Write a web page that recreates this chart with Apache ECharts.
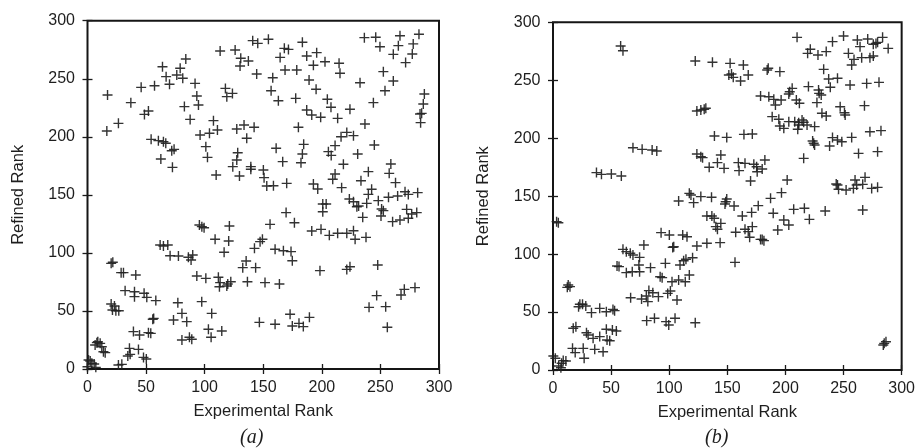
<!DOCTYPE html>
<html><head><meta charset="utf-8">
<script src="https://cdn.jsdelivr.net/npm/echarts@6/dist/echarts.min.js"></script>
<style>html,body{margin:0;padding:0;background:#fff}#c{width:918px;height:448px}</style>
</head><body><div id="c"></div>
<script>
// Panel (a): Experimental Rank vs Refined Rank
const aX = [236.3,246,249.6,266.7,265.3,282.9,278,277.2,271.5,261,252.5,261,253.9,244,236.8,244.8,232.6,224,287.5,286.6,285.2,284.3,283.8,
113.2,126,130.8,130.2,137.3,141,145.3,154.4,144.4,164.4,168,171.5,168.6,178.6,183.4,187.1,195.6,192.8,202.7,214.7,215.5,158.1,189.1,195.1,204.7,207.8,213.5,199,191.4,187.1,177.7,162.9,156.7,180,184.5,183.4,182.2,
205.6,208,211.3,216.4,221.3,227,218.4,211.3,209.3,216.9,230.6,233.4,239.7,242.5,239.7,238.3,248.2,251,250.5,223.5,227,229.9,231.4,234.9,237.7,227,228.4,221.3,213.5,206.4,199.3,191.4,198.4,221.3,224,247.7,246.8,240.3,254.5,255.9,267.6,270.4,279.5,
258.9,257.5,262.9,256.9,264.7,271,273.8,281.8,272.4,276.7,281,273.8,266.7,260.4,252.5,
192.8,196.5,200.8,203.7,200.8,169.5,176.6,155.8,149.3,147.3,142.5,160.1,167.2,173.7,174.8,135.4,132.5,143.5,136.5,151.5,163.8,146.7,160.1,172.9,174.8,180.5,184.2,189.4,
17.1,16.5,26.4,37,45.8,48.6,52,57.2,64,67.1,70,76.2,79.1,81.3,83.9,82.7,87.6,91.8,93.3,94.7,96.1,101,102.4,104.1,107.5,110.9,109.8,117.7,118.9,123.7,124,128.2,127.4,129.7,127.4,133.6,135.9,142.2,139.4,139.4,150.1,150.7,153,158.7,161,166.6,170,
54.3,60.5,64.8,66.8,71.9,73.9,62.6,72.5,
62,64.8,68.5,70.5,77.6,86.1,89.8,88.4,95.5,99.5,97.6,108.9,121.1,120.5,116.6,93.3,101,111.7,113.2,112.6,118.9,122.3,119.7,
20.2,21.6,28.7,30.7,41.2,32.1,40.1,40.1,48.3,50.6,58.3,20.2,21.3,24.2,26.7,23,56.5,55.7,77.1,73.4,80.6,84.7,80.6,87,89,97.5,106,103.2,105.5,114.6,
39.2,44.4,52,54,43.5,47.8,50.2,35.8,36.4,34.4,26.4,29.3,8.8,10.8,6.5,8,12.2,13.6,15.1,0.9,2.3,3.7,5.7,7.1,0];
const aY = [285.4,285.7,277.6,287,278.5,288.3,280,271.3,263.9,271,256.1,248,239.7,229.4,211,193,246.6,223.7,236.9,228.3,220.2,212.2,219.6,
273.9,274.8,267.6,261,265.3,282.8,280.5,284,254.1,268.4,276.2,275.3,257.5,257.5,281.4,269.6,272.5,261.6,264.7,263.3,254.7,250.9,248.9,240.9,232.3,225.4,215.9,216.8,218.8,223.1,233.1,231.1,239.7,208.2,193.5,185.2,177.7,
187.2,184,192.4,200.1,203.8,201,176.3,168,163.4,156.2,185.2,162.2,170,154.8,150.4,142.7,145,137.8,131.8,146.4,144.1,139.8,140.4,130.6,113.4,119.1,111.7,116.9,116.9,115.1,120.3,118.9,84.7,85.8,88.1,89.6,63.2,53.1,53.7,35.9,63.7,68.6,70.1,
176.6,168.5,160.5,147.9,149,152.7,150.4,151.9,137.5,133.5,134.7,129.8,128.3,126.9,136.4,
159.3,155,142.1,142.1,135.5,134.7,126,124.6,111.7,109.7,103.9,103.1,101.9,101.1,93.3,93,87.3,87.3,75.2,74.4,73.2,40.2,38.5,47.1,37,39.3,36.5,44.5,
236,205,211.6,229.4,242.6,219.3,222.2,244,260.4,251.8,245.2,253.2,259,250.4,267,226,215,246,235.1,227.4,201.5,191.5,182.3,203,213.9,205.9,167.1,241.7,234.6,237.4,174.3,186.3,180,166.2,206.7,210.2,198.7,208.2,174.3,172,171.4,164.8,157.6,157.9,190.1,178.6,159.9,
197.8,196.7,195.8,194.4,188,189.2,180.9,173.7,
106.8,105.9,106.8,97.6,97.3,96.2,98.2,93.9,124,121.7,122.6,111.7,123.2,110.2,100.5,80.1,78.1,79,74.4,70.9,71.5,75.2,73.2,
91,91.9,83,83,81,67.5,66.6,62.3,65.2,61.7,58.9,56,50.8,50.2,50.2,54.3,43.6,42.8,57.1,42.2,47.9,40.8,25,27.3,25.6,58,47.9,34.2,27.3,32.7,
32.2,29.3,31.3,30.7,16.9,10,8.6,17.8,12.6,11.2,3.4,4,23.5,22.1,20.7,22.7,19.2,14.9,14.1,7.8,6.9,4.9,4.3,1.4,2];

// Panel (b)
const bX = [210,250,240.5,261.9,270.8,283.6,277.9,279.3,275.6,288.4,264.2,254.2,259,265.6,272.7,275.6,257,255.6,269.9,280.5,268,247.1,250.8,251.4,257,240.5,244.8,248.5,238,272.7,282.2,262.9,279.3,215.7,223.4,224.3,225.1,
219.1,221.4,228,235.1,232.9,237.2,244.8,238.6,228.5,230.8,229,219.8,227.1,231.4,235.1,225.1,
209.4,212,202.9,205.8,203.7,196.3,190,185.7,178.6,191.4,195.2,185.2,184.3,188.6,194.3,195.2,198.6,202.9,208,211.4,214.3,215.7,218.6,210.6,211.4,
152.4,163.8,168,151.3,153.6,155.1,161.4,122.4,137.2,58.2,60.2,123.8,127.2,130.1,131.5,138.9,149.5,164.3,171.5,123.8,127.2,128.7,134.4,141.5,144.4,147.2,
159.5,160.1,165.2,170,172.8,175.2,175.7,180,182.3,68.8,76.7,85.3,89.3,37.4,41.7,50.2,58.8,3.1,4.6,
117.3,118.7,121,127.2,136.4,108.1,148.6,148,149.5,155.8,162.9,170.9,176.6,187.2,189.5,196.6,193.4,198.6,202.9,201.5,207.1,216.3,220.6,234.2,
132.4,136.7,138.7,140.1,141.5,144.4,143.8,132.4,123.8,157.2,165.2,168,171.5,169.2,178.6,181.5,180,156.6,
93,100.1,111.6,115.3,78.2,120.1,112.4,114.4,103,103.9,96.7,109.3,117.3,113.8,108.1,102.4,92.2,93.9,83.9,73.9,74.5,68.2,
60.2,63.1,66.5,68.8,74.5,55.1,56.8,63.1,13.1,14.6,12.3,
66.8,76.2,80.3,82.5,85.9,90.7,81.6,98.7,101,106.7,105,97.3,99.6,87.3,80.6,122.4,
23.1,25.4,28.2,22,33.1,40.2,45.9,51.6,53,19.7,17.4,28.8,30.2,34.5,40.2,45.9,48.8,51.1,54.5,46.5,
16.8,19.1,26,26.8,35.9,43.1,0.3,2,4.9,7.4,8.8,11.1,6.8,285,284.2,286.5,
243.7,245.7,244.8,252.2,258.5,261.3,259.9,266.5,268.5,274.2,279.3,266.5];
const bY = [287,288.2,283.3,284.7,285.6,287,281.8,282.7,281,277.5,279,273.2,268,269.5,269.5,270.9,263.2,245.9,247.3,248.2,228.1,227.2,222,220,200.7,200.5,198.4,197,193.3,205.6,206.5,186.9,188.4,182.6,197.6,195.6,194.1,
273.2,276.7,271.8,274.7,259.4,251.1,251.7,243.9,241.6,237.3,238.7,244.5,230.7,221.5,219.2,210,
233,230.1,238.1,243,240.1,233,233.5,235.8,236.4,228.6,257.4,260.3,258.8,218.6,216.3,210.5,208.5,214.3,214.3,213.4,215.7,213.7,211.4,207.7,211.4,
264.6,263.2,254.5,254.5,255.4,252.5,249.4,266.6,265.5,279.5,275.5,223.5,224.3,224.9,225.8,201.9,200.7,203.3,203.6,186.4,184.1,183.2,174.9,178.9,185.5,174,
178.9,172,178.3,163.1,177.5,175.4,171.1,173.4,181.2,191.8,190.4,189.8,189,170.3,168.8,169.1,167.4,128,127.1,
152.4,151,144.4,149.6,149,145.8,145.2,143.2,147.5,141.5,132.9,136,141.8,148.1,135.2,153,120.8,129.4,125.1,163.9,138.6,139.5,130,137.2,
132.9,132.9,130.9,123.7,121.4,126.5,109.9,109.3,107,118.8,121.4,119.4,123.7,114.5,112.7,111.6,112.7,92.9,
118.5,116.5,116.5,115,107.9,96.9,94.3,95.5,105.8,106.4,92,90.6,82,76.2,77.7,76.2,80.5,79.7,88.3,90.6,84.8,84.8,
104.1,102.1,100.7,99.2,97.2,89.7,89.2,84,73.3,71.9,71.3,
62.4,61.3,63.8,68.5,66.7,63.3,59,66.1,68.2,60.4,44.6,41.7,38.8,44.6,42.6,40.8,
56.7,56.7,55.2,54.6,49.5,53.2,50.3,52.3,51.2,37.4,36,32.2,30.2,27.3,28.8,35.1,25.3,34.5,33.6,25.9,
18.7,15,18.7,10.1,17.8,15.8,12.1,10.1,3.5,5.8,8.1,7.8,2,23,21.6,24.4,
160.5,155.9,159.6,155.3,156.7,159.6,163.9,160.2,166.2,156.7,157.6,138];

const ticks = [0,50,100,150,200,250,300];
const panelLabels = ['(a)','(b)'];
const xName = 'Experimental Rank';
const yName = 'Refined Rank';

const pairs = (xs, ys) => xs.map((v,i)=>[v, ys[i]]);
const plus = 'path://M4.3,0H5.7V4.3H10V5.7H5.7V10H4.3V5.7H0V4.3H4.3Z';
const txt = '#1e1e1e';
const font = 'Liberation Sans, Arial, Helvetica, sans-serif';

const grids = [
  {left:87.5, top:20.7, width:351.5, height:348.3},
  {left:553, top:22.3, width:351, height:347.7}
];
const xAxes = [], yAxes = [];
grids.forEach((g, gi) => {
  const base = {min:0, max:300, interval:50, gridIndex:gi, splitLine:{show:false},
    axisLine:{show:false}, axisTick:{show:true, inside:true, length:5, lineStyle:{color:'#1a1a1a', width:1.3}}};
  xAxes.push(Object.assign({}, base, {type:'value', position:'bottom', name:xName, nameLocation:'middle', nameGap:34,
    nameTextStyle:{fontSize:16.5, color:txt, fontFamily:font},
    axisLabel:{fontSize:16, color:txt, fontFamily:font, margin:11, showMaxLabel:true}}));
  xAxes.push(Object.assign({}, base, {type:'value', position:'top', axisLabel:{show:false}}));
  yAxes.push(Object.assign({}, base, {type:'value', position:'left', name:yName, nameLocation:'middle', nameGap:61, nameRotate:90,
    nameTextStyle:{fontSize:16.5, color:txt, fontFamily:font},
    axisLabel:{fontSize:16, color:txt, fontFamily:font, margin:12.5}}));
  yAxes.push(Object.assign({}, base, {type:'value', position:'right', axisLabel:{show:false}}));
});

const mk = (data, gi) => ({type:'scatter', xAxisIndex:gi*2, yAxisIndex:gi*2, data, symbol:plus, symbolSize:10,
  clip:false, itemStyle:{color:'#222', opacity:0.92}, silent:true, animation:false});

const chart = echarts.init(document.getElementById('c'), null, {renderer:'canvas'});
chart.setOption({
  animation:false,
  backgroundColor:'#fff',
  grid: grids.map(g => Object.assign({show:true, borderColor:'#151515', borderWidth:2, backgroundColor:'transparent'}, g)),
  xAxis: xAxes,
  yAxis: yAxes,
  title: [
    {text:panelLabels[0], left:235, top:423, textStyle:{fontSize:20, fontStyle:'italic', fontWeight:'normal', color:txt, fontFamily:'Liberation Serif, serif'}},
    {text:panelLabels[1], left:700, top:423, textStyle:{fontSize:20, fontStyle:'italic', fontWeight:'normal', color:txt, fontFamily:'Liberation Serif, serif'}}
  ],
  series: [mk(pairs(aX,aY),0), mk(pairs(bX,bY),1)]
});
</script></body></html>
